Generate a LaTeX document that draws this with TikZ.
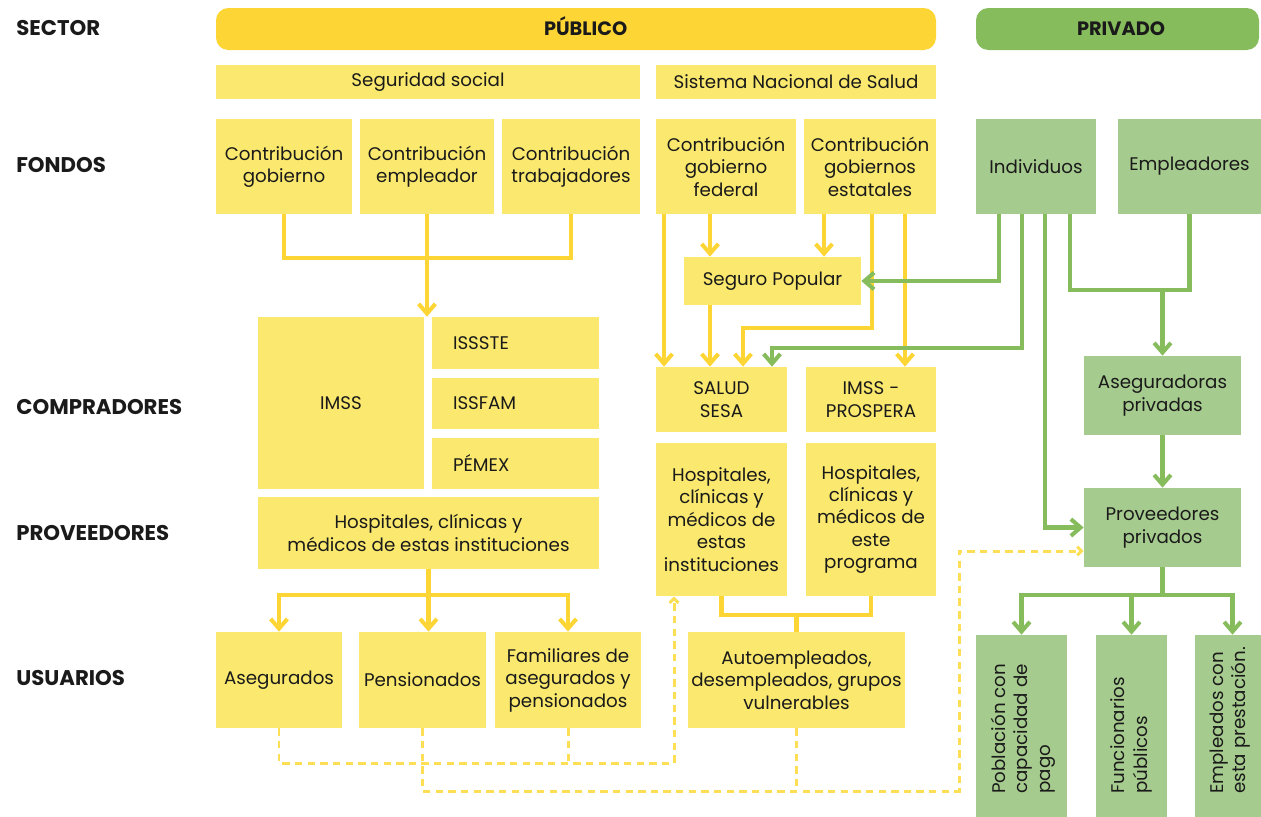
\documentclass[tikz,border=0pt]{standalone}
\usepackage{fontspec}
\setmainfont{Poppins}
\usepackage{xcolor}
\usetikzlibrary{arrows.meta}
\definecolor{oro}{HTML}{FDD535}
\definecolor{amarillo}{HTML}{FAE96E}
\definecolor{verde}{HTML}{86BC5C}
\definecolor{verdeclaro}{HTML}{A6CB8E}
\definecolor{punteo}{HTML}{FCDF55}
\definecolor{tinta}{HTML}{1A1A1A}
\tikzset{
  dim/.style 2 args={minimum width=#1*0.02cm, minimum height=#2*0.02cm},
  caja/.style={fill=amarillo, inner sep=0pt, align=center, text=tinta},
  cajav/.style={fill=verdeclaro, inner sep=0pt, align=center, text=tinta},
  izq/.style={align=left, text width=2.5cm, inner xsep=0.42cm},
  barra/.style={rounded corners=7pt, inner sep=0pt, text=tinta, text height=7.6pt, text depth=0pt, font=\fontsize{11}{13}\selectfont\bfseries},
  etiqueta/.style={anchor=west, inner sep=0pt, text=tinta, font=\fontsize{12.1}{14}\selectfont\bfseries},
  linea/.style={draw=oro, line width=2.3pt},
  lineav/.style={draw=verde, line width=2.3pt},
  flujo/.style={linea, -{Straight Barb[length=5.5pt,width=9.5pt]}},
  flujov/.style={lineav, -{Straight Barb[length=5.5pt,width=9.5pt]}},
  punteado/.style={draw=punteo, line width=1.7pt, dash pattern=on 4.2pt off 3pt},
  punteadof/.style={punteado, -{Straight Barb[length=2.5pt,width=5pt]}}
}

\begin{document}
\begin{tikzpicture}[x=0.02cm,y=-0.02cm,font=\fontsize{10.4}{12.8}\selectfont]
  \useasboundingbox (0,0) rectangle (1261,816);

  % Row labels
  \node[etiqueta] (lsector) at (16,28) {SECTOR};
  \node[etiqueta] (lfondos) at (16,165) {FONDOS};
  \node[etiqueta] (lcompra) at (16,407) {COMPRADORES};
  \node[etiqueta] (lprovee) at (16,533) {PROVEEDORES};
  \node[etiqueta] (lusuar) at (16,678) {USUARIOS};

  % Sector bars
  \node[barra, fill=oro, dim={720}{42}] (publico) at (576,29) {\hspace*{11pt}PÚBLICO};
  \node[barra, fill=verde, dim={283}{42}] (privado) at (1117.5,29) {\hspace*{4pt}PRIVADO};
  \node[caja, dim={424}{34}] (segsoc) at (428,82) {Seguridad social};
  \node[caja, dim={280}{34}] (sns) at (796,82) {Sistema Nacional de Salud};

  % Fondos
  \node[caja, dim={136}{95}] (cgob) at (284,166.5) {Contribución\\gobierno};
  \node[caja, dim={134}{95}] (cemp) at (427,166.5) {Contribución\\empleador};
  \node[caja, dim={138}{95}] (ctrab) at (571,166.5) {Contribución\\trabajadores};
  \node[caja, dim={140}{95}] (cfed) at (726,166.5) {Contribución\\gobierno\\federal};
  \node[caja, dim={132}{95}] (cest) at (870,166.5) {Contribución\\gobiernos\\estatales};
  \node[cajav, dim={120}{95}] (indiv) at (1036,166.5) {Individuos};
  \node[cajav, dim={143}{95}] (emplea) at (1189.5,166.5) {Empleadores};

  % Compradores
  \node[caja, dim={166}{172}] (imss) at (341,403) {IMSS};
  \node[caja, izq, dim={167}{52}] (issste) at (515.5,343) {ISSSTE};
  \node[caja, izq, dim={167}{51}] (issfam) at (515.5,403.5) {ISSFAM};
  \node[caja, izq, dim={167}{51}] (pemex) at (515.5,463.5) {PÉMEX};
  \node[caja, dim={177}{48}] (segpop) at (772.5,281) {Seguro Popular};
  \node[caja, dim={131}{65}] (salud) at (721.5,399.5) {SALUD\\SESA};
  \node[caja, dim={130}{65}] (prospera) at (871,399.5) {IMSS -\\PROSPERA};
  \node[cajav, dim={157}{79}] (asegpriv) at (1162.5,395.5) {Aseguradoras\\privadas};

  % Proveedores
  \node[caja, dim={341}{72}] (hosss) at (428.5,533) {Hospitales, clínicas y\\médicos de estas instituciones};
  \node[caja, dim={131}{153}] (hossesa) at (721.5,519.5) {Hospitales,\\clínicas y\\médicos de\\estas\\instituciones};
  \node[caja, dim={130}{153}] (hosprog) at (871,519.5) {Hospitales,\\clínicas y\\médicos de\\este\\programa};
  \node[cajav, dim={157}{79}] (provpriv) at (1162.5,527.5) {Proveedores\\privados};

  % Usuarios
  \node[caja, dim={126}{96}] (aseg) at (279,680) {Asegurados};
  \node[caja, dim={127}{96}] (pens) at (422.5,680) {Pensionados};
  \node[caja, dim={146}{96}] (fam) at (568,680) {Familiares de\\asegurados y\\pensionados};
  \node[caja, dim={217}{96}] (autoemp) at (796.5,680) {Autoempleados,\\desempleados, grupos\\vulnerables};
  \node[cajav, dim={91}{195}] (poblac) at (1021.5,732.5) {};
  \node[cajav, dim={71}{195}] (funcion) at (1131.5,732.5) {};
  \node[cajav, dim={75}{195}] (emplpre) at (1232.5,732.5) {};
  \node[rotate=90, anchor=west, align=left, inner sep=0pt, text=tinta] (tpoblac) at (1023,794) {Población con\\capacidad de\\pago};
  \node[rotate=90, anchor=west, align=left, inner sep=0pt, text=tinta] (tfuncion) at (1131.5,794) {Funcionarios\\públicos};
  \node[rotate=90, anchor=west, align=left, inner sep=0pt, text=tinta] (templpre) at (1230,794) {Empleados con\\esta prestación.};

  % Seguridad social flows
  \coordinate (j1) at (cemp.south |- 0,258);
  \draw[linea] (cgob.south) |- (j1) -| (ctrab.south);
  \draw[flujo] (cemp.south) -- (cemp.south |- imss.north);
  \coordinate (j2) at (hosss.south |- 0,595);
  \draw[linea] (hosss.south) -- (j2);
  \draw[flujo] (j2) -| (aseg.north);
  \draw[flujo] (j2) -- (j2 |- pens.north);
  \draw[flujo] (j2) -| (fam.north);

  % Sistema Nacional de Salud flows
  \draw[flujo] (cfed.south -| 664,0) -- (salud.north -| 664,0);
  \draw[flujo] (cfed.south -| 710,0) -- (segpop.north -| 710,0);
  \draw[flujo] (cest.south -| 824,0) -- (segpop.north -| 824,0);
  \draw[flujo] (cest.south -| 872,0) -- (872,328) -| (salud.north -| 743,0);
  \draw[flujo] (cest.south -| 905,0) -- (prospera.north -| 905,0);
  \draw[flujo] (segpop.south -| 710,0) -- (salud.north -| 710,0);
  \coordinate (j3) at (autoemp.north |- 0,615);
  \draw[linea] (hossesa.south) |- (hosprog.south |- j3) -- (hosprog.south);
  \draw[linea] (j3) -- (autoemp.north);

  % Private flows
  \draw[flujov] (indiv.south -| 999,0) |- (segpop.east);
  \draw[flujov] (indiv.south -| 1022,0) -- (1022,348) -| (salud.north -| 772,0);
  \draw[flujov] (indiv.south -| 1045,0) |- (provpriv.west);
  \draw[lineav] (indiv.south -| 1070,0) |- (emplea.south |- 0,290) -- (emplea.south);
  \draw[flujov] (asegpriv.north |- 0,290) -- (asegpriv.north);
  \draw[flujov] (asegpriv.south) -- (provpriv.north);
  \coordinate (j4) at (provpriv.south |- 0,595);
  \draw[lineav] (provpriv.south) -- (j4);
  \draw[flujov] (j4) -| (poblac.north);
  \draw[flujov] (j4) -| (funcion.north);
  \draw[flujov] (j4) -| (emplpre.north);

  % Dashed links
  \coordinate (d1) at (674,763);
  \coordinate (d2) at (959,791);
  \draw[punteadof] (aseg.south) |- (d1) -- (d1 |- hossesa.south);
  \draw[punteado] (fam.south) -- (fam.south |- d1);
  \draw[punteadof] (pens.south) |- (d2) |- (provpriv.west |- 0,551);
  \draw[punteado] (autoemp.south) -- (autoemp.south |- d2);
\end{tikzpicture}
\end{document}
